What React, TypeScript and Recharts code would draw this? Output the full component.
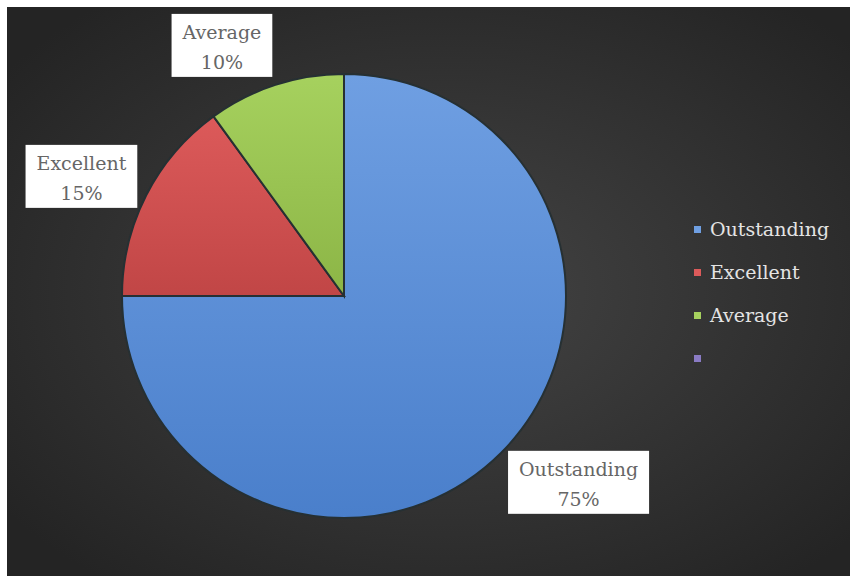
import { Cell, Legend, Pie, PieChart } from "recharts";

const WIDTH = 850;
const HEIGHT = 576;
const RADIAN = Math.PI / 180;
const FONT = "'DejaVu Serif', serif";

// ratings share
const categories = ["Outstanding", "Excellent", "Average"];
const shares = [75, 15, 10];
// the legend shows a fourth, unnamed series
const legendNames = ["Outstanding", "Excellent", "Average", ""];

const COLORS = [
  ["#6f9fe2", "#4a7fcb"],
  ["#dc5a5a", "#c14646"],
  ["#a6d15e", "#8cb546"],
  ["#8a7bc4", "#6a5aa6"],
];

const data = categories.map((name, i) => ({ name, value: shares[i] }));

let ctx: CanvasRenderingContext2D | null = null;
function textWidth(s: string) {
  if (!ctx) ctx = document.createElement("canvas").getContext("2d");
  if (!ctx) return s.length * 11;
  ctx.font = `19px ${FONT}`;
  return ctx.measureText(s).width;
}

function renderLabel(props: any) {
  const { cx, cy, midAngle, outerRadius, name, percent } = props;
  const cos = Math.cos(-midAngle * RADIAN);
  const sin = Math.sin(-midAngle * RADIAN);
  const ax = cx + (outerRadius + 10) * cos;
  const ay = cy + (outerRadius + 10) * sin;
  const pct = `${Math.round(percent * 100)}%`;
  const w = Math.max(textWidth(name), textWidth(pct)) + 22;
  const h = 63;
  const x = cos < 0 ? ax - w : ax;
  const y = ay - h * (0.5 - 0.5 * sin);
  return (
    <g>
      <rect x={x} y={y} width={w} height={h} fill="#ffffff" />
      <text x={x + w / 2} y={y + 25} textAnchor="middle" fill="#666666" fontSize={19} fontFamily={FONT}>
        {name}
      </text>
      <text x={x + w / 2} y={y + 55} textAnchor="middle" fill="#666666" fontSize={19} fontFamily={FONT}>
        {pct}
      </text>
    </g>
  );
}

function renderLegend() {
  return (
    <svg width={160} height={170}>
      {legendNames.map((n, i) => (
        <g key={i}>
          <rect x={4} y={11 + i * 43} width={7} height={7} fill={COLORS[i][0]} />
          <text x={20} y={21 + i * 43} fill="#e4e4e4" fontSize={19} fontFamily={FONT}>
            {n}
          </text>
        </g>
      ))}
    </svg>
  );
}

export default function App() {
  return (
    <div style={{ position: "absolute", left: 0, top: 0, width: WIDTH, height: HEIGHT, background: "#ffffff" }}>
      <PieChart width={WIDTH} height={HEIGHT} margin={{ top: 0, right: 0, bottom: 0, left: 0 }}>
        <defs>
          <radialGradient id="bg" cx="52%" cy="50%" r="65%">
            <stop offset="0%" stopColor="#444444" />
            <stop offset="100%" stopColor="#242424" />
          </radialGradient>
          {COLORS.map((c, i) => (
            <linearGradient key={i} id={`slice${i}`} x1="0" y1="0" x2="0" y2="1">
              <stop offset="0%" stopColor={c[0]} />
              <stop offset="100%" stopColor={c[1]} />
            </linearGradient>
          ))}
        </defs>
        <rect x={7} y={7} width={WIDTH - 7} height={HEIGHT - 7} fill="url(#bg)" />
        <Pie
          data={data}
          dataKey="value"
          nameKey="name"
          cx={344}
          cy={296}
          outerRadius={222}
          startAngle={90}
          endAngle={-270}
          stroke="#263033"
          strokeWidth={2}
          label={renderLabel}
          labelLine={false}
          isAnimationActive={false}
        >
          {data.map((_, i) => (
            <Cell key={i} fill={`url(#slice${i})`} />
          ))}
        </Pie>
        <Legend
          layout="vertical"
          content={renderLegend}
          wrapperStyle={{ position: "absolute", left: 690, top: 215, width: 160 }}
        />
      </PieChart>
    </div>
  );
}
